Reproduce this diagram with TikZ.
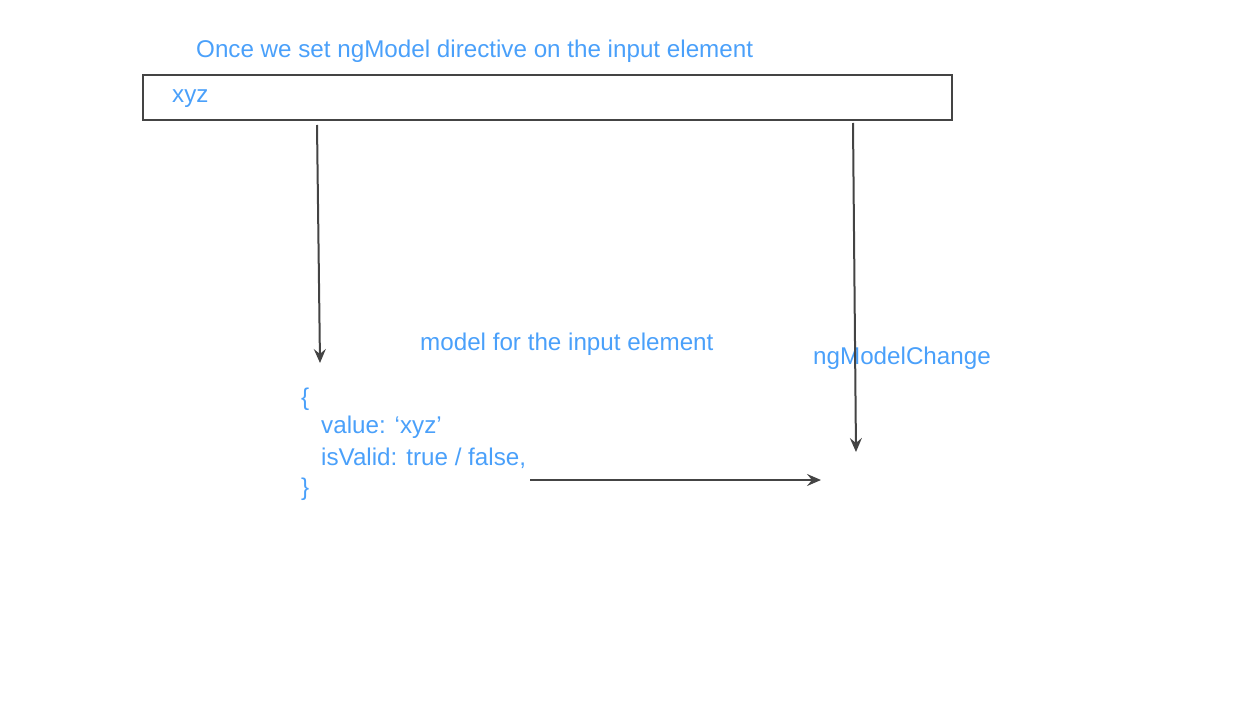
\documentclass[tikz,border=0pt]{standalone}
\usepackage{fontspec}
\setmainfont{Liberation Sans}
\usetikzlibrary{arrows.meta}
\definecolor{txtblue}{RGB}{74,160,250}
\definecolor{linegray}{RGB}{68,68,68}
\begin{document}
\begin{tikzpicture}[x=1pt,y=-1pt,
  lbl/.style={text=txtblue,font=\fontsize{24.2}{29}\selectfont,inner sep=0pt,anchor=base west},
  conn/.style={draw=linegray,line width=2pt,-{Stealth[length=14pt,width=12pt,inset=5pt]}}]
\useasboundingbox (0,0) rectangle (1258,714);
\node[draw=linegray,line width=1.8pt,minimum width=809pt,minimum height=45pt,inner sep=0pt,anchor=north west] (box) at (142,74) {};
\node[lbl] (title) at (196,58) {Once we set ngModel directive on the input element};
\node[lbl] (xyz) at (172,103) {xyz};
\node[lbl] (model) at (420,350) {model for the input element};
\node[lbl] (change) at (813,364) {ngModelChange};
\node[lbl] (l1) at (301,405) {\{};
\node[lbl] (l2) at (321,433) {value: ‘xyz’};
\node[lbl] (l3) at (321,465) {isValid: true / false,};
\node[lbl] (l4) at (301,495) {\}};
\coordinate (a1s) at (317,125);
\coordinate (a1e) at (320,363);
\coordinate (a2s) at (853,123);
\coordinate (a2e) at (856,452);
\coordinate (a3s) at (530,480);
\coordinate (a3e) at (821,480);
\draw[conn] (a1s) -- (a1e);
\draw[conn] (a2s) -- (a2e);
\draw[conn] (a3s) -- (a3e);
\end{tikzpicture}
\end{document}
